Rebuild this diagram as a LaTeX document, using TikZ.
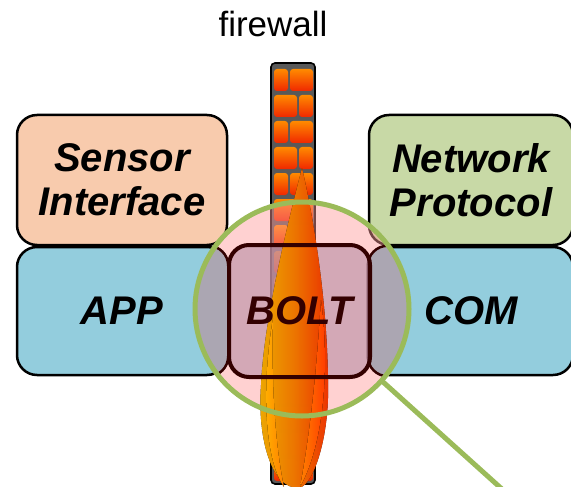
\documentclass[tikz,border=0pt]{standalone}
\usepackage{fontspec}
\setmainfont{Liberation Sans}

\definecolor{sensorfill}{HTML}{F8CBAD}
\definecolor{netfill}{HTML}{C8D9A6}
\definecolor{appfill}{HTML}{93CDDD}
\definecolor{lensgreen}{HTML}{9BBB59}
\definecolor{lenspink}{HTML}{FF9999}
\definecolor{lensgray}{HTML}{ABA6B2}
\definecolor{boltfill}{HTML}{B78EA6}
\definecolor{boltedge}{HTML}{330000}
\definecolor{mortar}{HTML}{595959}
\definecolor{bricktop}{HTML}{FF8A00}
\definecolor{brickbot}{HTML}{F02800}
\definecolor{flameyellow}{HTML}{FFB800}
\definecolor{flameorange}{HTML}{FF8000}
\definecolor{flamered}{HTML}{FF3300}

\tikzset{
  layer/.style={draw=black, line width=1.25pt, rounded corners=10pt, inner sep=0pt,
    font=\fontsize{20}{22}\selectfont\bfseries\itshape, align=center},
  boltbox/.style={rounded corners=10pt, inner sep=0pt, minimum width=70.5pt, minimum height=66pt},
  lensbox/.style={fill=lensgray, draw=boltedge, line width=1.25pt, rounded corners=10pt},
  brick/.style={rounded corners=1.5pt, top color=bricktop, bottom color=brickbot},
  lensrim/.style={draw=lensgreen, line width=2.5pt},
}

\begin{document}
\begin{tikzpicture}[x=0.5pt, y=-0.5pt]
\useasboundingbox (0,0) rectangle (571,486);

% ---------- software layers ----------
\node[layer, fill=sensorfill, minimum width=105pt, minimum height=65pt] (sensor) at (122,180) {Sensor\\Interface};
\node[layer, fill=appfill, minimum width=105pt, minimum height=64pt] (app) at (122,311) {APP};
\node[layer, fill=netfill, minimum width=102pt, minimum height=65pt] (net) at (471,180) {Network\\Protocol};
\node[layer, fill=appfill, minimum width=102pt, minimum height=64pt] (com) at (471,311) {COM};

% ---------- the wall ----------
\node[anchor=base, font=\fontsize{17.5}{20}\selectfont] (fwlabel) at (273,37) {firewall};
\node[draw=black, line width=0.8pt, fill=mortar, rounded corners=2pt, inner sep=0pt,
      minimum width=22pt, minimum height=210.5pt] (wall) at (293,273.5) {};
\foreach \r in {0,...,15}{
  \pgfmathsetmacro\by{69+26*\r}
  \ifodd\r
    \path[brick] (274,\by) rectangle ++(23,22);
    \path[brick] (299,\by) rectangle ++(14,22);
  \else
    \path[brick] (274,\by) rectangle ++(14,22);
    \path[brick] (290,\by) rectangle ++(23,22);
  \fi
}

% ---------- magnifier ----------
\node[circle, minimum size=107pt, inner sep=0pt, outer sep=0pt, fill=lenspink, fill opacity=0.45] (lens) at (302,309) {};
\begin{scope}
  \clip (lens.center) circle [radius=53.5pt];
  \draw[lensbox] (app.south west) rectangle (app.north east);
  \draw[lensbox] (com.south west) rectangle (com.north east);
\end{scope}
\node[boltbox, fill=boltfill, fill opacity=0.6] (bolt) at (299.5,311) {};

% ---------- flame ----------
\fill[left color=flameyellow, right color=flamered, middle color=flameorange, fill opacity=0.92]
  (302,168) .. controls (314,220) and (327,300) .. (328,380)
  .. controls (330,440) and (312,488) .. (298,488)
  .. controls (272,488) and (257,440) .. (261,385)
  .. controls (264,320) and (286,230) .. (302,168) -- cycle;
\fill[left color=flameorange, right color=flamered]
  (321,300) .. controls (329,360) and (326,440) .. (300,487)
  .. controls (309,440) and (316,380) .. (321,300) -- cycle;
\fill[left color=flameyellow, right color=flameorange]
  (273,318) .. controls (261,390) and (265,460) .. (284,487)
  .. controls (276,450) and (271,390) .. (273,318) -- cycle;

\node[layer, boltbox, draw=boltedge, line width=2pt, text=boltedge] (boltlabel) at (bolt) {BOLT};

\draw[lensrim] (lens.center) circle [radius=53.5pt];
\coordinate (tail) at (513,499);
\draw[lensrim] (lens.-42) -- (tail);

\end{tikzpicture}
\end{document}
